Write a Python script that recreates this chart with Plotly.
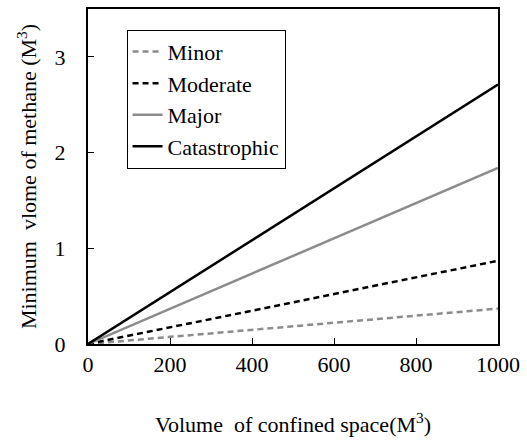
import plotly.graph_objects as go

volume = [0, 1000]
minor = [0, 0.37]
moderate = [0, 0.87]
major = [0, 1.84]
catastrophic = [0, 2.71]

x_ticks = [0, 200, 400, 600, 800, 1000]
y_ticks = [0, 1, 2, 3]

FONT = "Liberation Serif, Times New Roman, serif"
FS = 22

fig = go.Figure()
fig.add_trace(go.Scatter(x=volume, y=minor, mode="lines", name="Minor",
                         line=dict(color="#8c8c8c", width=2.5, dash="6px,4px")))
fig.add_trace(go.Scatter(x=volume, y=moderate, mode="lines", name="Moderate",
                         line=dict(color="#000000", width=2.5, dash="6px,4px")))
fig.add_trace(go.Scatter(x=volume, y=major, mode="lines", name="Major",
                         line=dict(color="#8c8c8c", width=2.5)))
fig.add_trace(go.Scatter(x=volume, y=catastrophic, mode="lines", name="Catastrophic",
                         line=dict(color="#000000", width=2.5)))

fig.update_layout(
    width=527, height=440,
    margin=dict(l=88, r=23, t=7, b=95),
    paper_bgcolor="white", plot_bgcolor="white",
    font=dict(family=FONT, size=FS, color="black"),
    showlegend=True,
    legend=dict(x=0.094, y=0.938, xanchor="left", yanchor="top",
                bgcolor="white", bordercolor="black", borderwidth=1,
                font=dict(family=FONT, size=FS), tracegroupgap=0,
                itemwidth=30),
    xaxis=dict(range=[0, 1000], tickvals=x_ticks, ticks="inside", ticklen=6,
               tickcolor="black", showline=True, linecolor="black", linewidth=2,
               mirror=True, showgrid=False, zeroline=False,
               ticklabelstandoff=0,
               tickfont=dict(family=FONT, size=FS),
               title=dict(text="Volume  of confined space(M<sup>3</sup>)",
                          font=dict(family=FONT, size=FS), standoff=40)),
    yaxis=dict(range=[0, 3.5], tickvals=y_ticks, ticks="inside", ticklen=6,
               tickcolor="black", showline=True, linecolor="black", linewidth=2,
               mirror=True, showgrid=False, zeroline=False,
               ticklabelstandoff=16,
               tickfont=dict(family=FONT, size=FS),
               title=dict(text="Minimum  vlome of methane (M<sup>3</sup>)",
                          font=dict(family=FONT, size=FS), standoff=12)),
)

fig.write_html("out.html")
